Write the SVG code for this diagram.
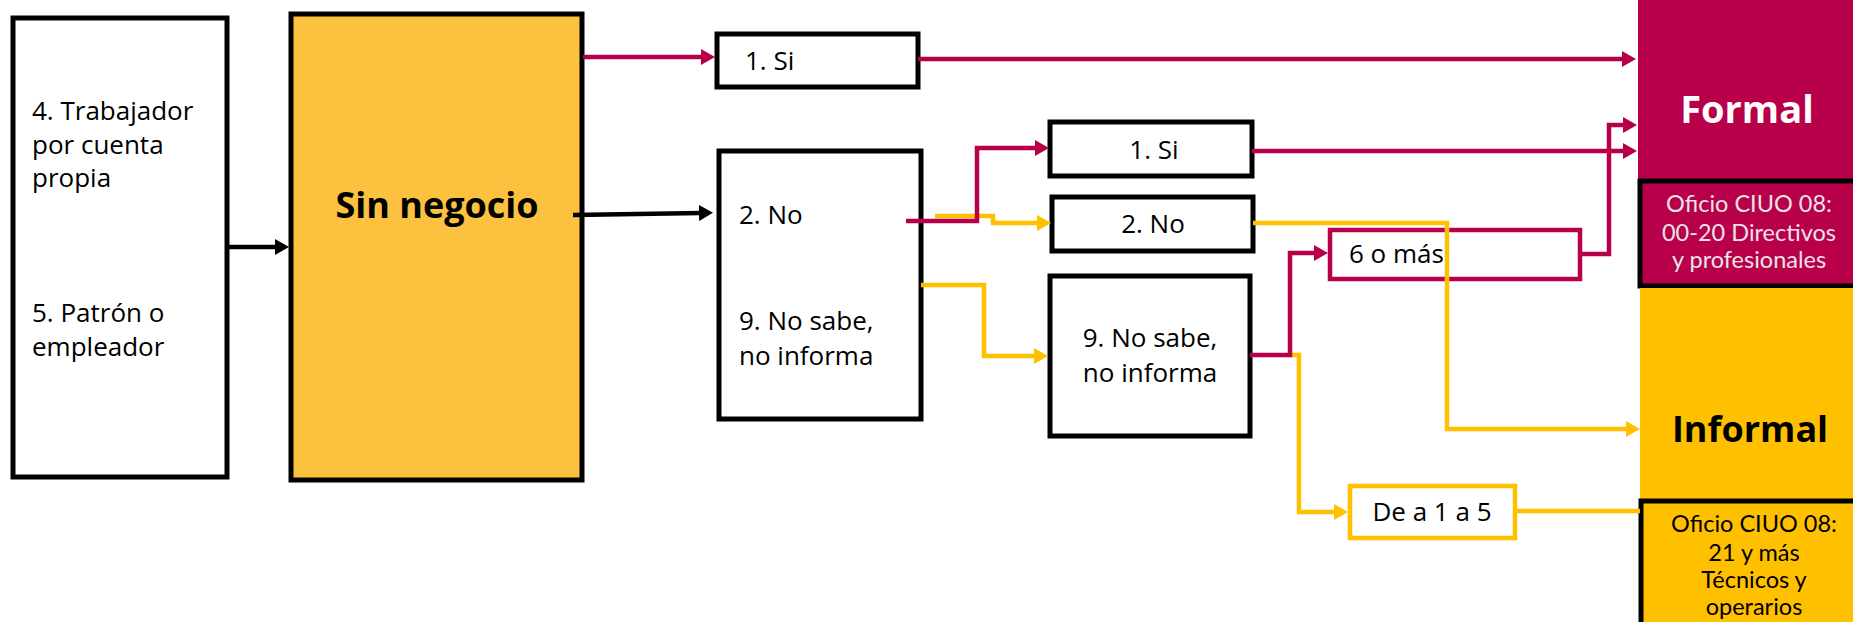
<svg xmlns="http://www.w3.org/2000/svg" width="1853" height="622" viewBox="0 0 1853 622">
<style>
.box{fill:#fff;stroke:#000;stroke-width:5}
.t{font-family:"Open Sans","Noto Sans","Liberation Sans",sans-serif;font-size:26px;fill:#000}
.b{font-weight:bold}
.c{text-anchor:middle}
.sm{font-family:Lato,"Open Sans","Liberation Sans",sans-serif;font-size:23.5px}
.ln{fill:none;stroke-width:4.5}
.mg{stroke:#B8004A}
.yl{stroke:#FFC000}
.bk{stroke:#000}
</style>
<defs>
<marker id="am" viewBox="0 0 14 16" refX="2" refY="8" markerWidth="14" markerHeight="16" markerUnits="userSpaceOnUse" orient="auto"><path d="M0,0 L14,8 L0,16 z" fill="#B8004A"/></marker>
<marker id="ay" viewBox="0 0 14 16" refX="2" refY="8" markerWidth="14" markerHeight="16" markerUnits="userSpaceOnUse" orient="auto"><path d="M0,0 L14,8 L0,16 z" fill="#FFC000"/></marker>
<marker id="ak" viewBox="0 0 14 16" refX="2" refY="8" markerWidth="14" markerHeight="16" markerUnits="userSpaceOnUse" orient="auto"><path d="M0,0 L14,8 L0,16 z" fill="#000"/></marker>
</defs>
<rect width="1853" height="622" fill="#fff"/>

<g id="n-origen">
<rect class="box" x="13" y="18" width="214" height="459"/>
<text class="t" x="32" y="120">4. Trabajador</text>
<text class="t" x="32" y="154">por cuenta</text>
<text class="t" x="32" y="187">propia</text>
<text class="t" x="32" y="322">5. Patrón o</text>
<text class="t" x="32" y="356">empleador</text>
</g>

<g id="n-sinnegocio">
<rect x="291" y="14" width="291" height="466" fill="#FBC13F" stroke="#000" stroke-width="5"/>
<text class="t b c" x="437" y="218" style="font-size:36px">Sin negocio</text>
</g>

<g id="n-si1">
<rect class="box" x="717" y="34" width="201" height="53"/>
<text class="t" x="745" y="70">1. Si</text>
</g>

<g id="n-no-nosabe">
<rect class="box" x="719" y="151" width="202" height="268"/>
<text class="t" x="739" y="224">2. No</text>
<text class="t" x="739" y="330">9. No sabe,</text>
<text class="t" x="739" y="365">no informa</text>
</g>

<g id="n-si2">
<rect class="box" x="1050" y="122" width="202" height="54"/>
<text class="t c" x="1154" y="159">1. Si</text>
</g>

<g id="n-no2">
<rect class="box" x="1052" y="197" width="201" height="54"/>
<text class="t c" x="1153" y="233">2. No</text>
</g>

<g id="n-nosabe2">
<rect class="box" x="1050" y="276" width="200" height="160"/>
<text class="t c" x="1150" y="347">9. No sabe,</text>
<text class="t c" x="1150" y="382">no informa</text>
</g>

<g id="n-6omas">
<rect x="1330" y="230" width="250" height="49" fill="#fff" stroke="#B8004A" stroke-width="4.5"/>
<text class="t" x="1349" y="263">6 o más</text>
</g>

<g id="n-de1a5">
<rect x="1350" y="486" width="165" height="52" fill="#fff" stroke="#FFC000" stroke-width="4.5"/>
<text class="t c" x="1432" y="521">De a 1 a 5</text>
</g>

<g id="n-formal">
<rect x="1638" y="0" width="215" height="182" fill="#B8004A"/>
<text class="t b c" x="1747" y="123" style="font-size:38px;fill:#fff">Formal</text>
</g>

<g id="n-oficio-formal">
<rect x="1640" y="181" width="218" height="105" fill="#B8004A" stroke="#000" stroke-width="5"/>
<text class="sm c" x="1749" y="212" fill="#EDE3E7">Oficio CIUO 08:</text>
<text class="sm c" x="1749" y="241" fill="#EDE3E7">00-20 Directivos</text>
<text class="sm c" x="1749" y="268" fill="#EDE3E7">y profesionales</text>
</g>

<g id="n-informal">
<rect x="1640" y="288" width="213" height="212" fill="#FFC000"/>
<text class="t b c" x="1750" y="442" style="font-size:36px">Informal</text>
</g>

<g id="n-oficio-informal">
<rect x="1641" y="501" width="218" height="130" fill="#FFC000" stroke="#000" stroke-width="5"/>
<text class="sm c" x="1754" y="532" fill="#000">Oficio CIUO 08:</text>
<text class="sm c" x="1754" y="561" fill="#000">21 y más</text>
<text class="sm c" x="1754" y="588" fill="#000">Técnicos y</text>
<text class="sm c" x="1754" y="615" fill="#000">operarios</text>
</g>

<g id="connectors">
<path class="ln bk" d="M227,247 H277" marker-end="url(#ak)"/>
<path class="ln mg" d="M583,57 H703" marker-end="url(#am)"/>
<path class="ln bk" d="M573,215 L701,213" marker-end="url(#ak)"/>
<path class="ln mg" d="M918,59 H1624" marker-end="url(#am)"/>
<path class="ln yl" d="M935,216 H993 V223 H1039" marker-end="url(#ay)"/>
<path class="ln mg" d="M906,221 H977 V148 H1037" marker-end="url(#am)"/>
<path class="ln yl" d="M921,285 H984 V356 H1036" marker-end="url(#ay)"/>
<path class="ln mg" d="M1252,151 H1625" marker-end="url(#am)"/>
<path class="ln yl" d="M1253,223 H1447 V429 H1628" marker-end="url(#ay)"/>
<path class="ln yl" d="M1288,355 H1299 V512 H1336" marker-end="url(#ay)"/>
<path class="ln mg" d="M1250,355 H1290 V253 H1316" marker-end="url(#am)"/>
<path class="ln mg" d="M1580,254 H1609 V125 H1625" marker-end="url(#am)"/>
<path class="ln yl" d="M1515,511 H1640"/>
</g>
</svg>
